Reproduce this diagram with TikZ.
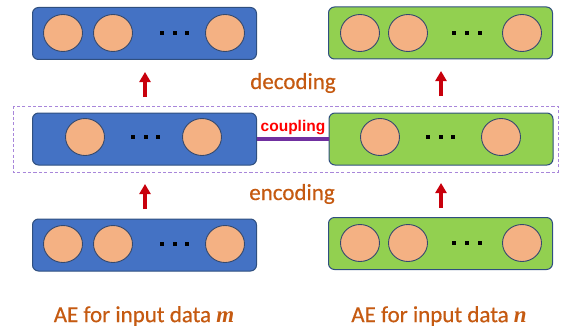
\documentclass[tikz,border=0pt]{standalone}
\usepackage{fontspec}
\setmainfont{Carlito}
\newfontfamily\labelfont[FakeBold=0.5]{Carlito}
\newfontfamily\couplingfont{Liberation Sans}
\newfontfamily\varfont{Liberation Serif}
\usetikzlibrary{arrows.meta,shapes.geometric}

\definecolor{aeblue}{HTML}{4472C4}
\definecolor{aegreen}{HTML}{92D050}
\definecolor{boxedge}{HTML}{2F4F7F}
\definecolor{unitfill}{HTML}{F4B183}
\definecolor{unitedge}{HTML}{34496E}
\definecolor{flowred}{HTML}{C8000C}
\definecolor{labelorange}{HTML}{C55A11}
\definecolor{couplepurple}{HTML}{7030A0}
\definecolor{frameviolet}{HTML}{A886DA}

\tikzset{
  layerbox/.style={draw=boxedge, line width=1pt, rounded corners=6pt,
    minimum width=224pt, minimum height=52pt, inner sep=0pt},
  unit/.style={ellipse, draw=unitedge, line width=0.9pt, fill=unitfill,
    minimum width=39pt, minimum height=37pt, inner sep=0pt},
  dotmark/.style={rectangle, fill=black, minimum size=4pt, inner sep=0pt},
  flow/.style={draw=flowred, line width=3.8pt,
    -{Triangle[width=11pt,length=10pt]}},
  phase/.style={text=labelorange, font=\labelfont\fontsize{23}{26}\selectfont},
  caption/.style={text=labelorange, font=\labelfont\fontsize{23}{26}\selectfont},
}

\begin{document}
\begin{tikzpicture}[x=1pt,y=-1pt]
\useasboundingbox (0,0) rectangle (562,329);

% latent pair frame
\draw[frameviolet, line width=1pt, dash pattern=on 3.2pt off 2.2pt]
  (13,106) rectangle (558,172);

% ---- AE for data m (left column) ----
\node[layerbox, fill=aeblue] (mtop) at (144.5,33.5) {};
\node[unit] (mt1) at (63,33) {};
\node[unit] (mt2) at (113,33) {};
\node[unit] (mt3) at (225,33) {};
\node[dotmark] (mtd1) at (162,33) {};
\node[dotmark] (mtd2) at (174.5,33) {};
\node[dotmark] (mtd3) at (187,33) {};

\node[layerbox, fill=aeblue] (mmid) at (144.5,139) {};
\node[unit] (mm1) at (85,137) {};
\node[unit] (mm2) at (202,137) {};
\node[dotmark] (mmd1) at (133,137) {};
\node[dotmark] (mmd2) at (145.5,137) {};
\node[dotmark] (mmd3) at (158,137) {};

\node[layerbox, fill=aeblue] (mbot) at (144.5,245) {};
\node[unit] (mb1) at (63,244) {};
\node[unit] (mb2) at (113,244) {};
\node[unit] (mb3) at (225,244) {};
\node[dotmark] (mbd1) at (162,244) {};
\node[dotmark] (mbd2) at (174.5,244) {};
\node[dotmark] (mbd3) at (187,244) {};

% ---- AE for data n (right column) ----
\node[layerbox, fill=aegreen] (ntop) at (440.5,33) {};
\node[unit] (nt1) at (360,33) {};
\node[unit] (nt2) at (408,33) {};
\node[unit] (nt3) at (522,33) {};
\node[dotmark] (ntd1) at (454,33) {};
\node[dotmark] (ntd2) at (467,33) {};
\node[dotmark] (ntd3) at (480,33) {};

\node[layerbox, fill=aegreen] (nmid) at (441,139) {};
\node[unit] (nm1) at (380,137) {};
\node[unit] (nm2) at (501,137) {};
\node[dotmark] (nmd1) at (428,137) {};
\node[dotmark] (nmd2) at (440.5,137) {};
\node[dotmark] (nmd3) at (453,137) {};

\node[layerbox, fill=aegreen] (nbot) at (440.5,243.5) {};
\node[unit] (nb1) at (360,243) {};
\node[unit] (nb2) at (408,243) {};
\node[unit] (nb3) at (522,243) {};
\node[dotmark] (nbd1) at (454,243) {};
\node[dotmark] (nbd2) at (467,243) {};
\node[dotmark] (nbd3) at (480,243) {};

% ---- encoding / decoding arrows ----
\coordinate (mdecS) at (145,97);  \coordinate (mdecE) at (145,72);
\coordinate (mencS) at (145,209); \coordinate (mencE) at (145,184);
\coordinate (ndecS) at (441,96);  \coordinate (ndecE) at (441,71);
\coordinate (nencS) at (441,208); \coordinate (nencE) at (441,183);
\draw[flow] (mdecS) -- (mdecE);
\draw[flow] (mencS) -- (mencE);
\draw[flow] (ndecS) -- (ndecE);
\draw[flow] (nencS) -- (nencE);

\node[phase] (dec) at (293,83) {decoding};
\node[phase] (enc) at (292,194) {encoding};

% ---- coupling of the two latent layers ----
\draw[couplepurple, line width=4pt] (mmid.east) -- (nmid.west);
\node[text=red, font=\couplingfont\bfseries\fontsize{15.5}{17}\selectfont] (cpl) at (293,128) {coupling};

% ---- column captions ----
\node[caption] (capm) at (144,316) {AE for input data {\varfont\bfseries\itshape m}};
\node[caption] (capn) at (439,316) {AE for input data {\varfont\bfseries\itshape n}};
\end{tikzpicture}
\end{document}
